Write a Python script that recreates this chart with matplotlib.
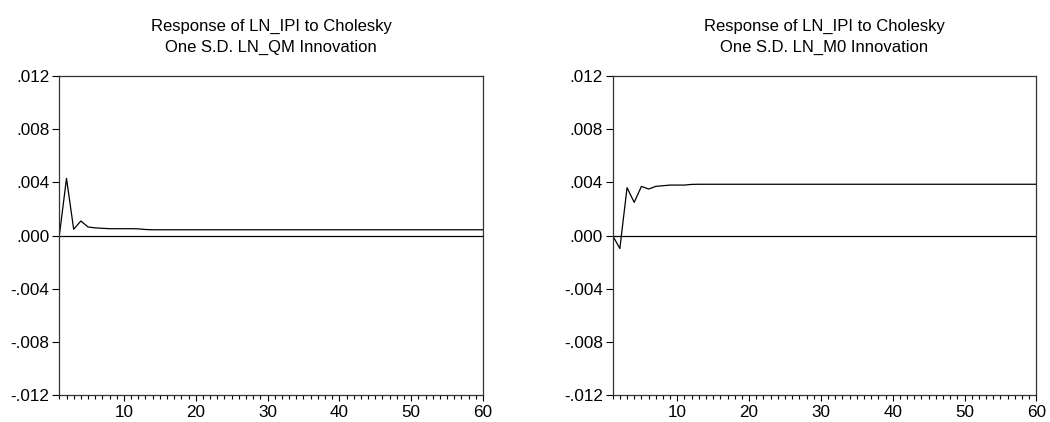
import matplotlib
matplotlib.use("Agg")
import matplotlib.pyplot as plt
from matplotlib.ticker import FuncFormatter, MultipleLocator, FixedLocator

plt.rcParams['font.family'] = ['Liberation Sans', 'DejaVu Sans']

periods = list(range(1, 61))

# Response of LN_IPI to LN_QM shock
resp_qm = [0.0, 0.0043, 0.00048, 0.0011, 0.00065, 0.00058, 0.00055, 0.00052,
           0.00052, 0.00052, 0.00052, 0.00051, 0.00046] + [0.00044] * 47

# Response of LN_IPI to LN_M0 shock
resp_m0 = [0.0, -0.00097, 0.0036, 0.0025, 0.0037, 0.0035, 0.0037, 0.00375,
           0.0038, 0.0038, 0.0038, 0.00385] + [0.00386] * 48

titles = ["Response of LN_IPI to Cholesky\nOne S.D. LN_QM Innovation",
          "Response of LN_IPI to Cholesky\nOne S.D. LN_M0 Innovation"]
series = [resp_qm, resp_m0]

yticks = [-0.012, -0.008, -0.004, 0.0, 0.004, 0.008, 0.012]
xticks = [10, 20, 30, 40, 50, 60]


def fmt(v, pos):
    s = "%.3f" % v
    if s.startswith("-0"):
        s = "-" + s[2:]
    elif s.startswith("0"):
        s = s[1:]
    return s


fig = plt.figure(figsize=(10.5, 4.22), dpi=100)
positions = [[0.0565, 0.0633, 0.4035, 0.7567], [0.5835, 0.0633, 0.4035, 0.7567]]

for pos, title, ys in zip(positions, titles, series):
    ax = fig.add_axes(pos)
    ax.plot(periods, ys, color="black", linewidth=0.9)
    ax.axhline(0, color="black", linewidth=0.9)
    ax.set_xlim(1, 60)
    ax.set_ylim(-0.012, 0.012)
    ax.yaxis.set_major_locator(FixedLocator(yticks))
    ax.yaxis.set_major_formatter(FuncFormatter(fmt))
    ax.xaxis.set_major_locator(FixedLocator(xticks))
    ax.xaxis.set_minor_locator(MultipleLocator(1))
    ax.tick_params(axis="y", which="major", direction="out", length=5, width=0.8,
                   labelsize=12.3, pad=2)
    ax.tick_params(axis="x", which="major", direction="out", length=4, width=0.8,
                   labelsize=12.3, pad=3)
    ax.tick_params(axis="x", which="minor", direction="out", length=3, width=0.8)
    for sp in ax.spines.values():
        sp.set_linewidth(0.9)
        sp.set_color("#333333")
    ax.set_title(title, fontsize=12, pad=17, linespacing=1.5)

fig.savefig("out.png", dpi=100)
